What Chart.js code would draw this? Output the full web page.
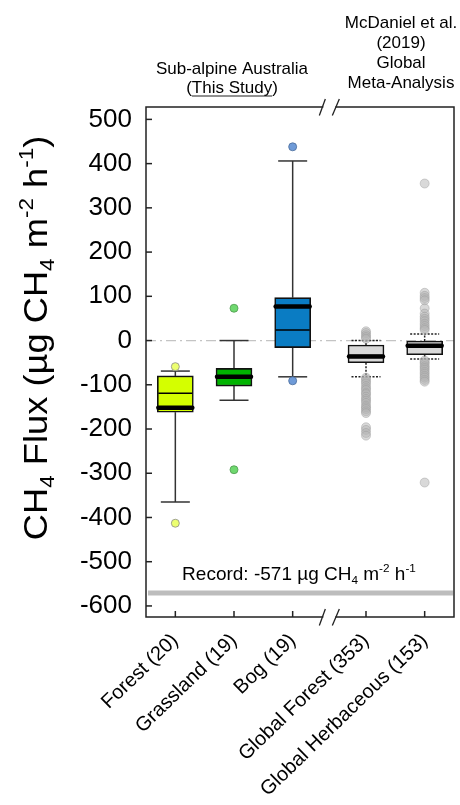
<!DOCTYPE html>
<html>
<head>
<meta charset="utf-8">
<script src="https://cdn.jsdelivr.net/npm/chart.js@4.4.1/dist/chart.umd.min.js"></script>
<style>
html, body { margin: 0; padding: 0; background: #fff; }
canvas { display: block; }
</style>
</head>
<body>
<canvas id="fluxChart" width="460" height="805"></canvas>
<script>
// categories and where they sit on the x axis (gap before the global studies)
const categories = ["Forest (20)", "Grassland (19)", "Bog (19)", "Global Forest (353)", "Global Herbaceous (153)"]
const xPositions = [1, 2, 3, 4.25, 5.25]

// box statistics, µg CH4 m-2 h-1
const q1 = [-162, -103, -16, -50, -32]
const q3 = [-80, -63, 97, -10, -1]
const medians = [-119, -80, 24, -34, -11]
const means = [-152, -82, 77, -36, -12]
const whiskerLow = [-365, -135, -82, -82, -42]
const whiskerHigh = [-69, 0, 406, 0, 15]

// outliers
const forestOut = [-59, -413]
const grasslandOut = [73, -292]
const bogOut = [438, -91]
const globalForestOut = [21, 17, 12, 8, 4, -84, -88, -93, -97, -103, -108, -112, -118, -121, -127, -132, -136, -141, -147, -151, -155, -160, -164, -196, -202, -209, -215]
const globalHerbOut = [355, 108, 101, 96, 91, 73, 61, 54, 49, 44, 38, 33, 28, 24, -45, -49, -53, -58, -62, -66, -71, -75, -80, -84, -89, -93, -321]

const recordValue = -571
const yTicks = [500, 400, 300, 200, 100, 0, -100, -200, -300, -400, -500, -600]

const boxColors = ["#d4ff00", "#00b300", "#0a7cc3", "#d9d9d9", "#d9d9d9"]

const FONT = "'Liberation Sans', Arial, Helvetica, sans-serif"
Chart.defaults.font.family = FONT
Chart.defaults.color = "#000"

function line(ctx, x1, y1, x2, y2) {
    ctx.beginPath()
    ctx.moveTo(x1, y1)
    ctx.lineTo(x2, y2)
    ctx.stroke()
}

// text with sub / superscript runs
function richText(ctx, parts, x, y, size, align) {
    let widths = parts.map(p => {
        ctx.font = (p.sub || p.sup ? size * 0.62 : size) + "px " + FONT
        return ctx.measureText(p.t).width
    })
    let total = widths.reduce((a, b) => a + b, 0)
    let cx = align === "center" ? x - total / 2 : x
    ctx.textAlign = "left"
    ctx.textBaseline = "alphabetic"
    parts.forEach((p, i) => {
        ctx.font = (p.sub || p.sup ? size * 0.62 : size) + "px " + FONT
        let dy = p.sub ? size * 0.22 : p.sup ? -size * 0.42 : 0
        ctx.fillText(p.t, cx, y + dy)
        if (p.under) {
            ctx.lineWidth = 1.2
            line(ctx, cx, y + 3, cx + widths[i], y + 3)
        }
        cx += widths[i]
    })
}

const boxPlot = {
    id: "boxPlot",
    beforeDatasetsDraw(chart) {
        const { ctx, chartArea: a, scales: { x, y } } = chart
        ctx.save()
        // zero reference line
        ctx.strokeStyle = "#c4c4c4"
        ctx.lineWidth = 1.2
        ctx.setLineDash([10, 4, 2, 4])
        let y0 = y.getPixelForValue(0)
        line(ctx, a.left, y0, a.right, y0)
        // record line
        ctx.setLineDash([])
        ctx.strokeStyle = "#bdbdbd"
        ctx.lineWidth = 5
        let yr = y.getPixelForValue(recordValue)
        line(ctx, a.left + 2, yr, a.right - 1, yr)
        // whiskers
        categories.forEach((c, i) => {
            let px = x.getPixelForValue(xPositions[i])
            let globalSet = i >= 3
            ctx.strokeStyle = globalSet ? "#222" : "#333"
            ctx.lineWidth = 1.5
            ctx.setLineDash(globalSet ? [2, 1.5] : [])
            let yHi = y.getPixelForValue(whiskerHigh[i])
            let yLo = y.getPixelForValue(whiskerLow[i])
            line(ctx, px, y.getPixelForValue(q3[i]), px, yHi)
            line(ctx, px, y.getPixelForValue(q1[i]), px, yLo)
            line(ctx, px - 14.5, yHi, px + 14.5, yHi)
            line(ctx, px - 14.5, yLo, px + 14.5, yLo)
        })
        ctx.restore()
    },
    afterDatasetDraw(chart, args) {
        if (args.index !== 0) return
        const { ctx, scales: { x, y } } = chart
        ctx.save()
        ctx.strokeStyle = "#000"
        categories.forEach((c, i) => {
            let px = x.getPixelForValue(xPositions[i])
            ctx.lineWidth = 1.5
            ctx.lineCap = "butt"
            let ym = y.getPixelForValue(medians[i])
            line(ctx, px - 17, ym, px + 17, ym)
            ctx.lineWidth = 4.5
            ctx.lineCap = "round"
            let ya = y.getPixelForValue(means[i])
            line(ctx, px - 17, ya, px + 17, ya)
        })
        ctx.restore()
    },
    afterDraw(chart) {
        const { ctx, chartArea: a, scales: { x, y } } = chart
        ctx.save()
        let bx = (x.getPixelForValue(xPositions[2]) + x.getPixelForValue(xPositions[3])) / 2
        // frame with a gap at the axis break
        ctx.strokeStyle = "#222"
        ctx.lineWidth = 1.5
        ctx.beginPath()
        ctx.moveTo(bx - 6, a.top)
        ctx.lineTo(a.left, a.top)
        ctx.lineTo(a.left, a.bottom)
        ctx.lineTo(bx - 6, a.bottom)
        ctx.moveTo(bx + 6, a.bottom)
        ctx.lineTo(a.right, a.bottom)
        ctx.lineTo(a.right, a.top)
        ctx.lineTo(bx + 6, a.top)
        ctx.stroke()
        // inward tick marks
        yTicks.forEach(v => {
            let py = y.getPixelForValue(v)
            line(ctx, a.left, py, a.left + 6, py)
        })
        xPositions.forEach(v => {
            let px = x.getPixelForValue(v)
            line(ctx, px, a.bottom, px, a.bottom - 6)
        })
        // break marks
        ctx.lineWidth = 1.3
        ;[a.top, a.bottom].forEach(py => {
            line(ctx, bx - 10, py + 8.5, bx - 4, py - 8)
            line(ctx, bx + 3, py + 8.5, bx + 10, py - 8)
        })
        // y axis title (stretched a little along its length like the original)
        ctx.fillStyle = "#000"
        ctx.save()
        ctx.translate(47, 338)
        ctx.rotate(-Math.PI / 2)
        ctx.scale(1.1, 1)
        richText(ctx, [
            { t: "CH" }, { t: "4", sub: true }, { t: " Flux (µg CH" }, { t: "4", sub: true },
            { t: " m" }, { t: "-2", sup: true }, { t: " h" }, { t: "-1", sup: true }, { t: ")" }
        ], 0, 0, 33, "center")
        ctx.restore()
        // record label
        richText(ctx, [
            { t: "Record: " + recordValue + " µg CH" }, { t: "4", sub: true }, { t: " m" },
            { t: "-2", sup: true }, { t: " h" }, { t: "-1", sup: true }
        ], 299, 580, 19, "center")
        // group headers
        richText(ctx, [{ t: "Sub-alpine Australia" }], 232, 74, 17, "center")
        richText(ctx, [{ t: "(" }, { t: "This Study", under: true }, { t: ")" }], 232, 93, 17, "center")
        let hx = 401
        richText(ctx, [{ t: "McDaniel et al." }], hx, 28, 17, "center")
        richText(ctx, [{ t: "(2019)" }], hx, 48, 17, "center")
        richText(ctx, [{ t: "Global" }], hx, 68, 17, "center")
        richText(ctx, [{ t: "Meta-Analysis" }], hx, 88, 17, "center")
        ctx.restore()
    }
}

function outlierSet(values, i, fill, border, radius) {
    return {
        type: "scatter",
        data: values.map(v => ({ x: xPositions[i], y: v })),
        backgroundColor: fill,
        borderColor: border,
        borderWidth: 0.8,
        pointRadius: radius,
        order: 0
    }
}

let canvasElement = document.getElementById("fluxChart")
let config = {
    type: "bar",
    data: {
        datasets: [
            {
                type: "bar",
                data: categories.map((c, i) => ({ x: xPositions[i], y: [q1[i], q3[i]] })),
                backgroundColor: boxColors,
                borderColor: "#111",
                borderWidth: 1.6,
                borderSkipped: false,
                barThickness: 36,
                order: 1
            },
            outlierSet(forestOut, 0, "#ecff70", "#8a8a8a", 4),
            outlierSet(grasslandOut, 1, "#6fd86f", "#4f9a4f", 4),
            outlierSet(bogOut, 2, "#6f9bd8", "#4a6c9a", 4),
            outlierSet(globalForestOut, 3, "rgba(180,180,180,0.5)", "rgba(150,150,150,0.5)", 4.5),
            outlierSet(globalHerbOut, 4, "rgba(180,180,180,0.5)", "rgba(150,150,150,0.5)", 4.5)
        ]
    },
    options: {
        responsive: false,
        animation: false,
        layout: { padding: { top: 107, right: 6, left: 0, bottom: 0 } },
        plugins: { legend: { display: false }, tooltip: { enabled: false } },
        scales: {
            x: {
                type: "linear",
                min: 0.5,
                max: 5.75,
                offset: false,
                grid: { display: false, drawTicks: false },
                border: { display: false },
                afterBuildTicks: scale => { scale.ticks = xPositions.map(v => ({ value: v })) },
                afterFit: scale => { scale.height = 188 },
                ticks: {
                    autoSkip: false,
                    minRotation: 44,
                    maxRotation: 44,
                    padding: 12,
                    font: { size: 20 },
                    callback: (v, i) => categories[i]
                }
            },
            y: {
                min: -625,
                max: 528,
                grid: { display: false, drawTicks: false },
                border: { display: false },
                afterBuildTicks: scale => { scale.ticks = yTicks.map(v => ({ value: v })) },
                afterFit: scale => { scale.width = 146 },
                ticks: { padding: 14, font: { size: 26 } }
            }
        }
    },
    plugins: [boxPlot]
}
let fluxChart = new Chart(canvasElement, config)
</script>
</body>
</html>
